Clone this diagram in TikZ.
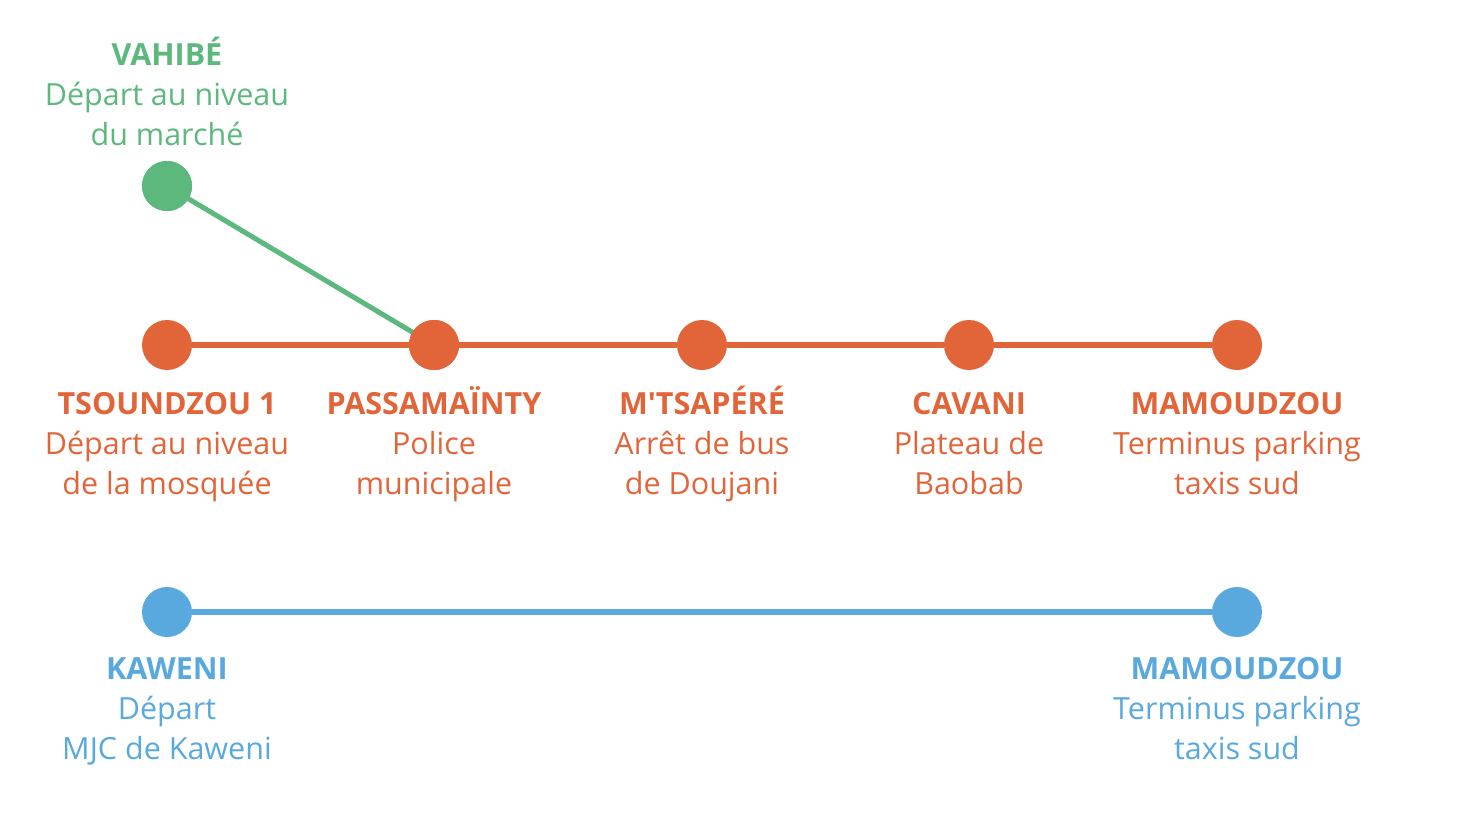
\documentclass[tikz,border=0pt]{standalone}
\usepackage{fontspec}
\setmainfont{Open Sans}
\definecolor{cgreen}{HTML}{5DB87E}
\definecolor{corange}{HTML}{E2653A}
\definecolor{cblue}{HTML}{5AA9DE}
\newcommand{\ls}{\rule[-9pt]{0pt}{40pt}}
\newcommand{\sq}{{\addfontfeatures{Ligatures=TeXOff}'}}
\begin{document}
\begin{tikzpicture}[x=1pt,y=-1pt,
  stop/.style={circle,fill=#1,minimum size=50pt,inner sep=0pt},
  lbl/.style={text=#1,align=center,font=\fontsize{30.5}{40}\selectfont,inner sep=0pt},
  route/.style={draw=#1,line width=6pt}]
\useasboundingbox (0,0) rectangle (1484,820);
% green line
\node[stop=cgreen] (v) at (167,186) {};
% orange line
\node[stop=corange] (t) at (167,345) {};
\node[stop=corange] (p) at (434,345) {};
\node[stop=corange] (m) at (702,345) {};
\node[stop=corange] (c) at (969,345) {};
\node[stop=corange] (z) at (1237,345) {};
% blue line
\node[stop=cblue] (k) at (167,612) {};
\node[stop=cblue] (zb) at (1237,612) {};
\draw[route=corange] (t) -- (p) -- (m) -- (c) -- (z);
\draw[route=cblue] (k) -- (zb);
\draw[draw=cgreen,line width=5pt] (v.center) -- (p.center);
\node[stop=cgreen] at (v) {};
\node[stop=corange] at (p) {};
% labels
\node[lbl=cgreen] (lv) at (167,94) {\ls\textbf{VAHIBÉ}\\\ls Départ au niveau\\\ls du marché};
\node[lbl=corange] (lt) at (167,443) {\ls\textbf{TSOUNDZOU 1}\\\ls Départ au niveau\\\ls de la mosquée};
\node[lbl=corange] (lp) at (434,443) {\ls\textbf{PASSAMAÏNTY}\\\ls Police\\\ls municipale};
\node[lbl=corange] (lm) at (702,443) {\ls\textbf{M\sq TSAPÉRÉ}\\\ls Arrêt de bus\\\ls de Doujani};
\node[lbl=corange] (lc) at (969,443) {\ls\textbf{CAVANI}\\\ls Plateau de\\\ls Baobab};
\node[lbl=corange] (lz) at (1237,443) {\ls\textbf{MAMOUDZOU}\\\ls Terminus parking\\\ls taxis sud};
\node[lbl=cblue] (lk) at (167,708) {\ls\textbf{KAWENI}\\\ls Départ\\\ls MJC de Kaweni};
\node[lbl=cblue] (lzb) at (1237,708) {\ls\textbf{MAMOUDZOU}\\\ls Terminus parking\\\ls taxis sud};
\end{tikzpicture}
\end{document}
